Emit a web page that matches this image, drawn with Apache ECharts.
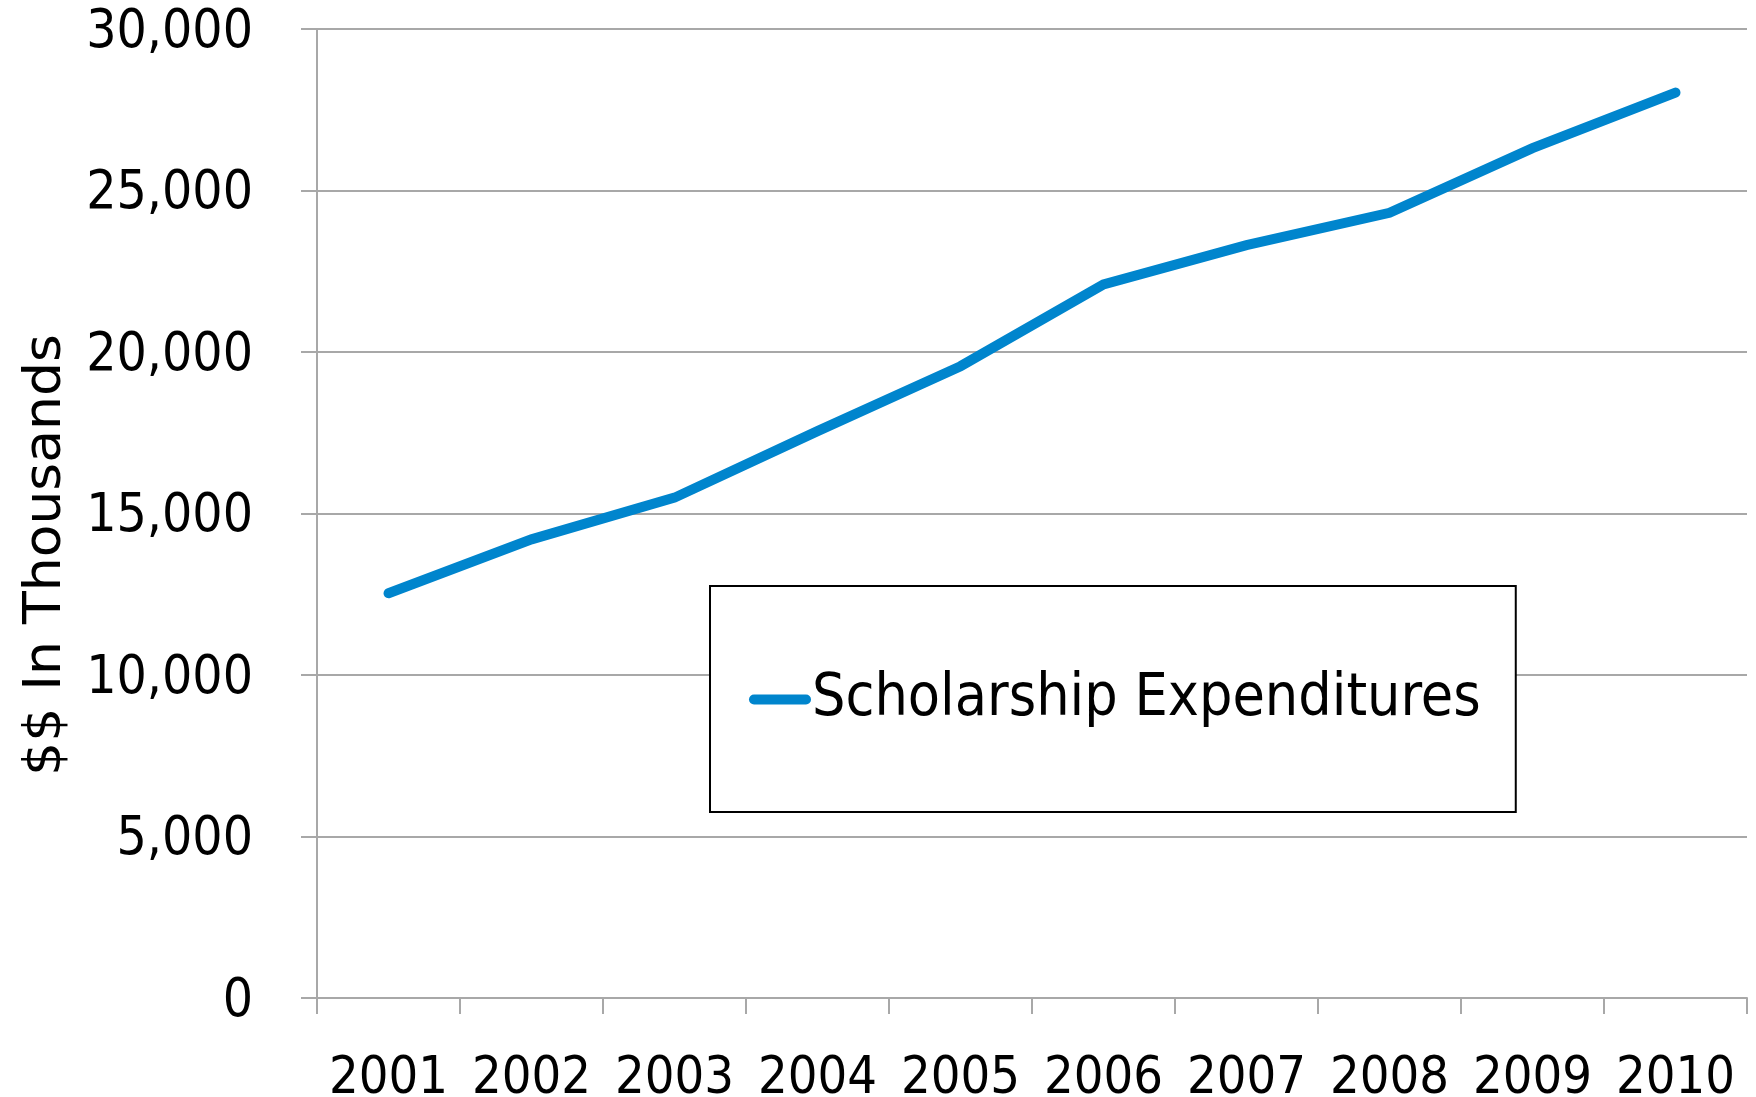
<!DOCTYPE html>
<html>
<head>
<meta charset="utf-8">
<title>Scholarship Expenditures</title>
<script src="https://cdn.jsdelivr.net/npm/echarts@6/dist/echarts.min.js"></script>
<style>
  html, body { margin: 0; padding: 0; background: #ffffff; }
  #chart { width: 1756px; height: 1097px; }
</style>
</head>
<body>
<div id="chart"></div>
<script>
// Fiscal years on the category axis
const years = ['2001', '2002', '2003', '2004', '2005', '2006', '2007', '2008', '2009', '2010'];
// Scholarship expenditures, $ in thousands
const expenditures = [12530, 14200, 15490, 17550, 19560, 22090, 23310, 24310, 26310, 28030];
// Value axis range and step
const yMin = 0;
const yMax = 30000;
const yStep = 5000;

const seriesName = 'Scholarship Expenditures';
const axisTitle = '$$ In Thousands';

const lineColor = '#0085CD';
const gridColor = '#A8A8A8';
const tickFont = '"DejaVu Sans Condensed", "DejaVu Sans", sans-serif';

// A zero-width spacer token taller than the text lets the value labels sit a
// little below their gridline.
const spacer = '{s|\u200b}';

const chart = echarts.init(document.getElementById('chart'), null, { renderer: 'canvas' });

chart.setOption({
  animation: false,
  backgroundColor: '#ffffff',
  grid: {
    left: 317, right: 9, top: 29, bottom: 99,
    containLabel: false,
    outerBoundsMode: 'none'
  },
  xAxis: {
    type: 'category',
    data: years,
    boundaryGap: true,
    axisLine: { show: true, lineStyle: { color: gridColor, width: 2 } },
    axisTick: { show: true, interval: 0, length: 16, lineStyle: { color: gridColor, width: 2 } },
    axisLabel: {
      interval: 0,
      margin: 55,
      color: '#000000',
      fontFamily: tickFont,
      fontSize: 52
    },
    splitLine: { show: false }
  },
  yAxis: {
    type: 'value',
    min: yMin,
    max: yMax,
    interval: yStep,
    axisLine: { show: true, lineStyle: { color: gridColor, width: 2 } },
    axisTick: { show: true, length: 16, lineStyle: { color: gridColor, width: 2 } },
    axisLabel: {
      margin: 64,
      color: '#000000',
      fontFamily: tickFont,
      fontSize: 53,
      formatter: v => spacer + '{v|' + v.toLocaleString('en-US') + '}',
      rich: {
        s: { fontSize: 53, lineHeight: 61, width: 0 },
        v: {
          color: '#000000',
          fontFamily: tickFont,
          fontSize: 53,
          lineHeight: 53,
          verticalAlign: 'bottom'
        }
      }
    },
    splitLine: { show: true, lineStyle: { color: gridColor, width: 2 } }
  },
  legend: {
    data: [seriesName],
    selectedMode: false,
    left: 710,
    top: 586,
    orient: 'horizontal',
    padding: [84, 35, 83, 39],
    borderColor: '#000000',
    borderWidth: 2,
    backgroundColor: '#ffffff',
    itemWidth: 62,
    itemHeight: 11,
    icon: 'path://M5,0 H57 A5,5 0 0 1 57,10 H5 A5,5 0 0 1 5,0 Z',
    itemStyle: { color: lineColor },
    textStyle: {
      color: '#000000',
      fontFamily: tickFont,
      fontSize: 58.6,
      padding: [0, 0, 0, -4]
    }
  },
  graphic: [
    {
      type: 'text',
      x: 46,
      y: 555,
      rotation: Math.PI / 2,
      scaleX: 1.03,
      style: {
        text: axisTitle,
        font: '52px "DejaVu Sans", sans-serif',
        fill: '#000000',
        align: 'center',
        verticalAlign: 'middle',
        textAlign: 'center',
        textVerticalAlign: 'middle'
      }
    }
  ],
  series: [
    {
      name: seriesName,
      type: 'line',
      data: expenditures,
      showSymbol: false,
      symbol: 'none',
      smooth: false,
      color: lineColor,
      lineStyle: { color: lineColor, width: 10, cap: 'round', join: 'miter' }
    }
  ]
});
</script>
</body>
</html>
